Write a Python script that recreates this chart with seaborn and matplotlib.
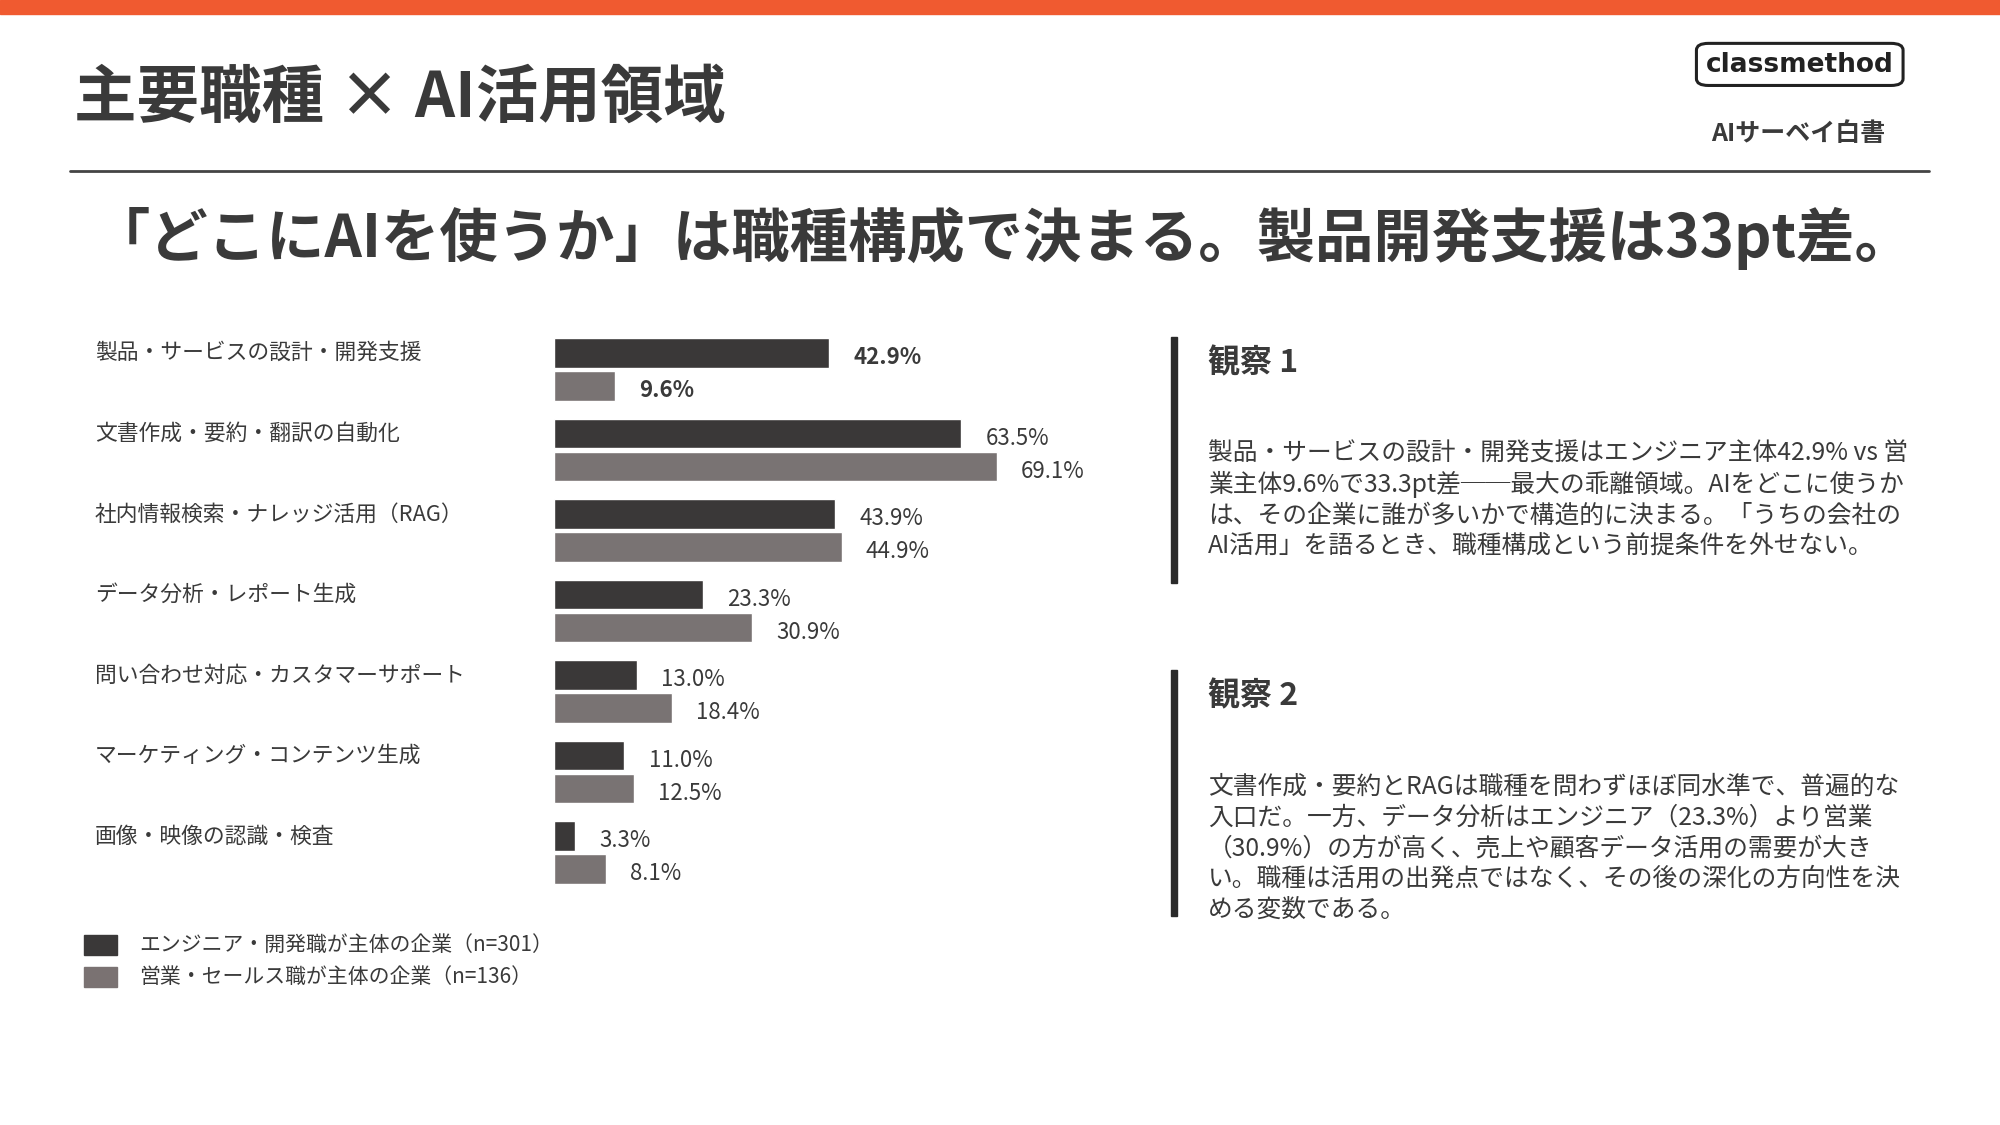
import matplotlib
matplotlib.use("Agg")
import matplotlib.pyplot as plt
from matplotlib.patches import Rectangle, FancyBboxPatch
import pandas as pd
import seaborn as sns

categories = ['製品・サービスの設計・開発支援', '文書作成・要約・翻訳の自動化', '社内情報検索・ナレッジ活用（RAG）',
              'データ分析・レポート生成', '問い合わせ対応・カスタマーサポート', 'マーケティング・コンテンツ生成',
              '画像・映像の認識・検査']
engineer = [42.9, 63.5, 43.9, 23.3, 13.0, 11.0, 3.3]
sales = [9.6, 69.1, 44.9, 30.9, 18.4, 12.5, 8.1]
series = ['エンジニア・開発職が主体の企業（n=301）', '営業・セールス職が主体の企業（n=136）']

obs1 = ["製品・サービスの設計・開発支援はエンジニア主体42.9% vs 営",
        "業主体9.6%で33.3pt差──最大の乖離領域。AIをどこに使うか",
        "は、その企業に誰が多いかで構造的に決まる。「うちの会社の",
        "AI活用」を語るとき、職種構成という前提条件を外せない。"]
obs2 = ["文書作成・要約とRAGは職種を問わずほぼ同水準で、普遍的な",
        "入口だ。一方、データ分析はエンジニア（23.3%）より営業",
        "（30.9%）の方が高く、売上や顧客データ活用の需要が大き",
        "い。職種は活用の出発点ではなく、その後の深化の方向性を決",
        "める変数である。"]

sns.set_theme(style="white")
plt.rcParams['font.family'] = ['Noto Sans CJK JP', 'DejaVu Sans']

DARK = '#3a3838'
GRAY = '#7a7272'
TXT = '#3a3a3a'
W, H = 1568, 882

def fx(x):
    return x / W

def fy(y):
    return 1 - y / H

fig = plt.figure(figsize=(20, 11.25), dpi=100)
fig.patch.set_facecolor('white')

# header
fig.patches.append(Rectangle((0, fy(11)), 1, 11 / H, transform=fig.transFigure, color='#f05a30'))
fig.text(fx(58), fy(77), '主要職種 × AI活用領域', fontsize=45, fontweight='bold', color=TXT, va='center')
fig.patches.append(FancyBboxPatch((fx(1330), fy(67)), fx(162), 33 / H, transform=fig.transFigure,
                                  boxstyle='round,pad=0,rounding_size=0.006', fill=False, ec='#222', lw=2.2))
fig.text(fx(1411), fy(51), 'classmethod', fontsize=19, fontweight='bold', color='#222', ha='center', va='center',
         family='DejaVu Sans')
fig.text(fx(1410), fy(105), 'AIサーベイ白書', fontsize=18, fontweight='bold', color=TXT, ha='center', va='center')
fig.lines.append(plt.Line2D([fx(55), fx(1512)], [fy(134), fy(134)], transform=fig.transFigure, color='#444', lw=2))
fig.text(fx(72), fy(187), '「どこにAIを使うか」は職種構成で決まる。製品開発支援は33pt差。', fontsize=42,
         fontweight='bold', color=TXT, va='center')

# chart
df = pd.DataFrame({'cat': categories * 2, 'val': engineer + sales,
                   'series': [series[0]] * 7 + [series[1]] * 7})
ax = fig.add_axes([fx(434), fy(700), fx(870 - 434), (700 - 258) / H])
sns.barplot(data=df, y='cat', x='val', hue='series', palette=[DARK, GRAY], orient='h',
            width=0.82, gap=0.1, ax=ax, legend=False)
ax.set_xlim(0, 86.7)
ax.set_ylim(6.5, -0.5)
ax.axis('off')
for i, cont in enumerate(ax.containers):
    for j, bar in enumerate(cont):
        v = bar.get_width()
        ax.text(v + 3.8, bar.get_y() + bar.get_height() / 2 + 0.06, f'{v:.1f}%', va='center',
                fontsize=16, color=TXT, fontweight='bold' if j == 0 else 'normal')
for j, c in enumerate(categories):
    ax.text(-71.5, j - 0.2, c, va='center', ha='left', fontsize=15.7, color=TXT)

# legend
for k, (s, col) in enumerate(zip(series, [DARK, GRAY])):
    y = 741 + 25 * k
    fig.patches.append(Rectangle((fx(66), fy(y + 8)), fx(26), 16 / H, transform=fig.transFigure, color=col))
    fig.text(fx(109), fy(y), s, fontsize=15, color=TXT, va='center')

# observations
for top, bottom, title, lines in [(264, 457, '観察 1', obs1), (525, 718, '観察 2', obs2)]:
    fig.patches.append(Rectangle((fx(918), fy(bottom)), fx(5), (bottom - top) / H,
                                 transform=fig.transFigure, color='#2a2a2a'))
    fig.text(fx(947), fy(top + 21), title, fontsize=23, fontweight='bold', color=TXT, va='center')
    for n, ln in enumerate(lines):
        fig.text(fx(947), fy(top + 92 + 24 * n), ln, fontsize=17.8, color=TXT, va='center')

fig.savefig('out.png', dpi=100, facecolor='white')
